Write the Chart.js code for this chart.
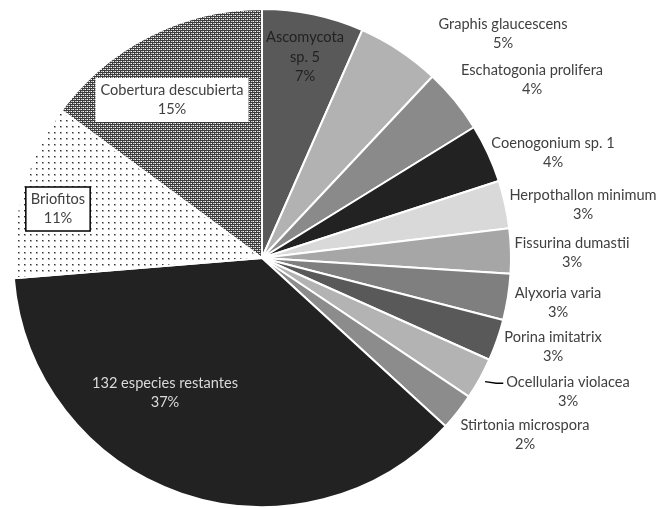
<!DOCTYPE html>
<html lang="es">
<head>
    <meta charset="UTF-8">
    <title>Cobertura de especies</title>
    <script src="https://cdn.jsdelivr.net/npm/chart.js"></script>
    <style>
        html, body { margin: 0; padding: 0; background: #fff; }
        #wrap { width: 659px; height: 508px; }
    </style>
</head>
<body>
    <div id="wrap"><canvas id="pieChart" width="659" height="508"></canvas></div>

    <script>
        // chart data (percent of total cover)
        const categories = [
            ['Ascomycota', 'sp. 5'],
            ['Graphis glaucescens'],
            ['Eschatogonia prolifera'],
            ['Coenogonium sp. 1'],
            ['Herpothallon minimum'],
            ['Fissurina dumastii'],
            ['Alyxoria varia'],
            ['Porina imitatrix'],
            ['Ocellularia violacea'],
            ['Stirtonia microspora'],
            ['132 especies restantes'],
            ['Briofitos'],
            ['Cobertura descubierta']
        ];
        const coverValues = [6.6, 5.4, 4.2, 3.8, 3.1, 2.9, 3.0, 2.7, 2.7, 2.4, 36.9, 11.4, 14.9];

        // fill patterns for the two non-lichen slices
        function makePattern(size, bg, dots) {
            const c = document.createElement('canvas');
            c.width = size; c.height = size;
            const g = c.getContext('2d');
            g.fillStyle = bg;
            g.fillRect(0, 0, size, size);
            dots.forEach(d => {
                g.fillStyle = d[2];
                g.fillRect(d[0], d[1], 1, 1);
            });
            return g.createPattern(c, 'repeat');
        }
        const ctx = document.getElementById('pieChart').getContext('2d');
        const dotPattern = makePattern(6, '#ffffff', [
            [0, 0, '#333'], [1, 0, '#999'], [0, 1, '#aaa'], [1, 1, '#bbb']
        ]);
        const gridPattern = makePattern(4, '#3c3c3c', [
            [1, 1, '#ffffff'], [3, 3, '#ffffff'], [1, 3, '#cccccc'], [3, 1, '#cccccc'],
            [0, 1, '#999'], [2, 3, '#999']
        ]);

        const sliceColors = ['#595959', '#b2b2b2', '#8a8a8a', '#222222', '#d9d9d9', '#a6a6a6',
            '#7f7f7f', '#595959', '#b3b3b3', '#8c8c8c', '#222222', dotPattern, gridPattern];

        // label placement relative to pie centre (px), plus style
        const labelSpots = [
            { dx: 43, dy: -201, color: '#222' },
            { dx: 241, dy: -224 },
            { dx: 270, dy: -178 },
            { dx: 291, dy: -105 },
            { dx: 321, dy: -53 },
            { dx: 310, dy: -5 },
            { dx: 296, dy: 45 },
            { dx: 291, dy: 89 },
            { dx: 306, dy: 134, leader: true },
            { dx: 263, dy: 177 },
            { dx: -97, dy: 135, color: '#d9d9d9' },
            { dx: -204, dy: -49, box: true, border: true },
            { dx: -90, dy: -158, box: true }
        ];

        const fontSpec = '14.6px Lato, "Open Sans", sans-serif';
        const lineH = 19.5;

        const pieLabels = {
            id: 'pieLabels',
            afterDatasetsDraw(chart) {
                const c = chart.ctx;
                const meta = chart.getDatasetMeta(0);
                const data = chart.data.datasets[0].data;
                const total = data.reduce((a, b) => a + b, 0);
                c.save();
                c.font = fontSpec;
                c.textAlign = 'center';
                c.textBaseline = 'middle';
                meta.data.forEach((arc, i) => {
                    const spot = labelSpots[i];
                    const lines = categories[i].concat([Math.round(data[i] / total * 100) + '%']);
                    const cx = arc.x + spot.dx;
                    const cy = arc.y + spot.dy;
                    const top = cy - (lines.length - 1) * lineH / 2;
                    if (spot.box) {
                        const w = Math.max(...lines.map(l => c.measureText(l).width)) + 10;
                        const h = lines.length * lineH + 5;
                        c.fillStyle = '#ffffff';
                        c.fillRect(cx - w / 2, cy - h / 2, w, h);
                        if (spot.border) {
                            c.strokeStyle = '#000';
                            c.lineWidth = 1.5;
                            c.strokeRect(cx - w / 2, cy - h / 2, w, h);
                        }
                    }
                    if (spot.leader) {
                        const mid = (arc.startAngle + arc.endAngle) / 2;
                        const r = arc.outerRadius + 6;
                        const x0 = arc.x + Math.cos(mid) * r;
                        const y0 = arc.y + Math.sin(mid) * r;
                        const tx = cx - c.measureText(lines[0]).width / 2 - 3;
                        c.strokeStyle = '#000';
                        c.lineWidth = 1.3;
                        c.beginPath();
                        c.moveTo(x0, y0);
                        c.lineTo(tx - 7, top + 1);
                        c.lineTo(tx, top + 1);
                        c.stroke();
                    }
                    c.fillStyle = spot.color || '#404040';
                    lines.forEach((l, k) => c.fillText(l, cx, top + k * lineH));
                });
                c.restore();
            }
        };

        const pieChart = new Chart(ctx, {
            type: 'pie',
            data: {
                labels: categories.map(c => c.join(' ')),
                datasets: [{
                    data: coverValues,
                    backgroundColor: sliceColors,
                    borderColor: '#ffffff',
                    borderWidth: 2
                }]
            },
            options: {
                responsive: false,
                animation: false,
                layout: { padding: { left: 12, right: 147, top: 8, bottom: 0 } },
                plugins: {
                    legend: { display: false },
                    tooltip: { enabled: false }
                }
            },
            plugins: [pieLabels]
        });
    </script>
</body>
</html>
